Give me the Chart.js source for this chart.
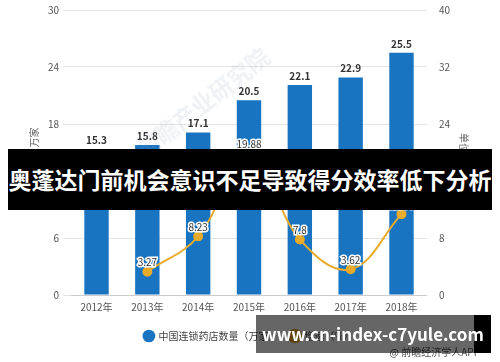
<!DOCTYPE html>
<html>
<head>
<meta charset="utf-8">
<script src="https://cdn.jsdelivr.net/npm/chart.js@4.4.0/dist/chart.umd.min.js"></script>
<style>
  html, body { margin: 0; padding: 0; background: #fff; }
  #wrap { position: relative; width: 500px; height: 362px; overflow: hidden; }
  #chart { position: absolute; left: 0; top: 0; }
  .mark { position: absolute; white-space: nowrap; pointer-events: none;
    font-family: "Noto Sans CJK SC", "Noto Sans", sans-serif; }
  #watermark { left: 128px; top: 138px; font-size: 23px; font-weight: bold;
    color: rgba(140, 155, 180, 0.14); transform: rotate(-38deg); transform-origin: left top; }
  #source { right: 20px; top: 344px; font-size: 10px; color: #555; }
  .band-black { position: absolute; background: #000; }
  .band-grey { position: absolute; background: rgba(0, 0, 0, 0.6); }
  .band-text { position: absolute; color: #fff; font-weight: bold; white-space: nowrap;
    font-family: "Noto Sans CJK SC", "Noto Sans", sans-serif; text-align: center; }
</style>
</head>
<body>
<div id="wrap">
  <canvas id="chart" width="500" height="362"></canvas>
  <div id="watermark" class="mark">前瞻产业研究院</div>
  <div id="source" class="mark">@ 前瞻经济学人APP</div>

  <!-- title banner over the middle of the chart -->
  <div class="band-black" style="left:8px; top:149px; width:484px; height:61px;"></div>
  <div class="band-grey" style="left:25px; top:149px; width:449px; height:61px; background: rgba(0,0,0,0.6);"></div>
  <div class="band-text" style="left:8px; top:149px; width:484px; height:61px; line-height:61px; font-size:23px;">奥蓬达门前机会意识不足导致得分效率低下分析</div>

  <!-- site banner at the bottom -->
  <div class="band-grey" style="left:256px; top:315px; width:218px; height:38px;"></div>
  <div class="band-black" style="left:474px; top:315px; width:17px; height:38px;"></div>
  <div class="band-text" style="left:262px; top:315px; width:220px; height:38px; line-height:38px; font-size:17px;">www.cn-index-c7yule.com</div>
</div>

<script>
(function() {
  'use strict';

  // chart values
  var years = ['2012年', '2013年', '2014年', '2015年', '2016年', '2017年', '2018年'];
  var storeCounts = [15.3, 15.8, 17.1, 20.5, 22.1, 22.9, 25.5];
  var growthRates = [null, 3.27, 8.23, 19.88, 7.8, 3.62, 11.35];
  var leftAxisMax = 30;
  var leftAxisStep = 6;
  var rightAxisMax = 40;
  var rightAxisStep = 8;

  var barColor = '#1874c1';
  var lineColor = '#e8ab2c';
  var fontFamily = '"Noto Sans CJK SC", "Noto Sans", sans-serif';

  // draws the value labels above bars and points
  var valueLabels = {
    id: 'valueLabels',
    afterDatasetsDraw: function(chart) {
      var ctx = chart.ctx;
      ctx.save();
      ctx.textAlign = 'center';
      ctx.textBaseline = 'bottom';

      var barMeta = chart.getDatasetMeta(0);
      ctx.font = 'bold 10px ' + fontFamily;
      ctx.fillStyle = '#333';
      barMeta.data.forEach(function(bar, i) {
        ctx.fillText(storeCounts[i], bar.x, bar.y - 4);
      });

      var lineMeta = chart.getDatasetMeta(1);
      ctx.font = '10px ' + fontFamily;
      ctx.lineWidth = 3;
      ctx.strokeStyle = '#fff';
      ctx.fillStyle = '#333';
      lineMeta.data.forEach(function(pt, i) {
        if (growthRates[i] === null) return;
        var label = String(growthRates[i]);
        ctx.strokeText(label, pt.x, pt.y - 4);
        ctx.fillText(label, pt.x, pt.y - 4);
      });
      ctx.restore();
    }
  };

  var chartData = {
    labels: years,
    datasets: [
      {
        type: 'bar',
        label: '中国连锁药店数量（万家）',
        data: storeCounts,
        backgroundColor: barColor,
        yAxisID: 'y',
        barPercentage: 0.48,
        categoryPercentage: 1,
        order: 2
      },
      {
        type: 'line',
        label: '增速（%）',
        data: growthRates,
        borderColor: lineColor,
        backgroundColor: lineColor,
        borderWidth: 2,
        pointRadius: 4,
        pointBackgroundColor: lineColor,
        pointBorderColor: lineColor,
        tension: 0.4,
        spanGaps: true,
        yAxisID: 'y1',
        order: 1
      }
    ]
  };

  var chartOptions = {
    responsive: false,
    animation: false,
    layout: {
      padding: { left: 24, right: 26, top: 10, bottom: 11 }
    },
    plugins: {
      tooltip: { enabled: false },
      legend: {
        position: 'bottom',
        labels: {
          usePointStyle: true,
          pointStyle: 'circle',
          boxWidth: 9,
          boxHeight: 9,
          padding: 12,
          color: '#444',
          font: { size: 10, family: fontFamily },
          // keep bar series first, like the original legend
          sort: function(a, b) { return a.datasetIndex - b.datasetIndex; }
        }
      }
    },
    scales: {
      x: {
        grid: { display: false, drawTicks: false },
        border: { color: '#ccc' },
        ticks: { color: '#555', padding: 6, font: { size: 10, family: fontFamily } }
      },
      y: {
        position: 'left',
        min: 0,
        max: leftAxisMax,
        ticks: { stepSize: leftAxisStep, color: '#555', padding: 4, font: { size: 10, family: fontFamily } },
        grid: { color: '#e4e4e4', tickLength: 8 },
        border: { display: false },
        title: { display: true, text: '单位：万家', color: '#666', font: { size: 10, family: fontFamily } }
      },
      y1: {
        position: 'right',
        min: 0,
        max: rightAxisMax,
        ticks: { stepSize: rightAxisStep, color: '#555', padding: 4, font: { size: 10, family: fontFamily } },
        grid: { display: false, tickLength: 8 },
        border: { display: false },
        title: { display: true, text: '单位：%', color: '#666', font: { size: 10, family: fontFamily } }
      }
    }
  };

  var ctx = document.getElementById('chart').getContext('2d');
  new Chart(ctx, {
    data: chartData,
    options: chartOptions,
    plugins: [valueLabels]
  });
})();
</script>
</body>
</html>
